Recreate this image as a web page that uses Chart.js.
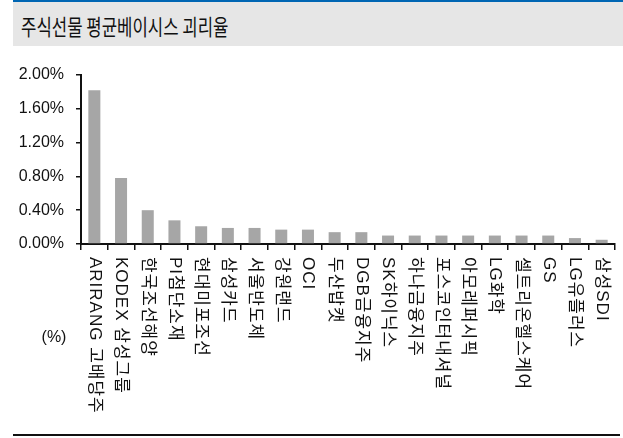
<!DOCTYPE html>
<html>
<head>
<meta charset="utf-8">
<script src="https://cdn.jsdelivr.net/npm/chart.js@4"></script>
<style>
    body { margin: 0; background: #fff; }
    #wrap { position: relative; width: 623px; height: 438px; }
    #topLine { position: absolute; left: 13px; top: 0; width: 610px; height: 2px; background: #0066b3; }
    #titleBox { position: absolute; left: 13px; top: 2px; width: 610px; height: 44px; background: #e6e6e6; }
    #title { position: absolute; left: 8px; top: 8px; font: 19px 'Noto Sans CJK KR', sans-serif; color: #111; white-space: nowrap; transform-origin: left top; transform: scale(0.88, 1.15); }
    #bottomLine { position: absolute; left: 13px; top: 434px; width: 607px; height: 2px; background: #111; }
    canvas { position: absolute; left: 0; top: 0; }
</style>
</head>
<body>
<div id="wrap">
    <div id="topLine"></div>
    <div id="titleBox"><div id="title">주식선물 평균베이시스 괴리율</div></div>
    <canvas id="basisChart" width="623" height="438"></canvas>
    <div id="bottomLine"></div>
</div>
<script>
// Data
const stocks = ['ARIRANG 고배당주', 'KODEX 삼성그룹', '한국조선해양', 'PI첨단소재', '현대미포조선',
    '삼성카드', '서울반도체', '강원랜드', 'OCI', '두산밥캣', 'DGB금융지주', 'SK하이닉스',
    '하나금융지주', '포스코인터내셔널', '아모레퍼시픽', 'LG화학', '셀트리온헬스케어', 'GS',
    'LG유플러스', '삼성SDI'];
const basisGap = [1.82, 0.78, 0.40, 0.28, 0.21, 0.19, 0.19, 0.17, 0.17, 0.14, 0.14, 0.10,
    0.10, 0.10, 0.10, 0.10, 0.10, 0.10, 0.07, 0.05];
const yTicks = [0, 0.4, 0.8, 1.2, 1.6, 2.0];

// Vertical category labels (read top to bottom) and the unit label
const labelPlugin = {
    id: 'verticalLabels',
    afterDraw(chart) {
        const ctx = chart.ctx;
        const xScale = chart.scales.x;
        ctx.save();
        ctx.fillStyle = '#111';
        ctx.font = "17px 'Liberation Sans', 'Noto Sans CJK KR', sans-serif";
        ctx.letterSpacing = '1px';
        ctx.textAlign = 'left';
        ctx.textBaseline = 'middle';
        stocks.forEach(function(name, i) {
            const x = xScale.getPixelForValue(i);
            ctx.save();
            ctx.translate(x, xScale.top + 13);
            ctx.rotate(Math.PI / 2);
            ctx.fillText(name, 0, 0);
            ctx.restore();
        });
        ctx.letterSpacing = '0px';
        ctx.font = "16px 'Liberation Sans', sans-serif";
        ctx.textAlign = 'center';
        ctx.fillText('(%)', 54, 338);
        ctx.restore();
    }
};

const ctx = document.getElementById('basisChart').getContext('2d');
const basisChart = new Chart(ctx, {
    type: 'bar',
    data: {
        labels: stocks,
        datasets: [{
            data: basisGap,
            backgroundColor: '#a6a6a6',
            barPercentage: 0.45,
            categoryPercentage: 1
        }]
    },
    options: {
        responsive: false,
        animation: false,
        devicePixelRatio: 1,
        layout: { padding: { top: 75, right: 8, left: 0, bottom: 0 } },
        plugins: {
            legend: { display: false },
            tooltip: { enabled: false }
        },
        scales: {
            x: {
                offset: true,
                afterFit: function(scale) { scale.height = 194; },
                grid: { offset: true, drawOnChartArea: false, drawTicks: true, tickLength: 6, color: '#111', lineWidth: 1.5 },
                border: { color: '#111', width: 2 },
                ticks: { display: false }
            },
            y: {
                min: 0,
                max: 2,
                afterFit: function(scale) { scale.width = 81; },
                afterBuildTicks: function(scale) { scale.ticks = yTicks.map(v => ({ value: v })); },
                grid: { drawOnChartArea: false, drawTicks: true, tickLength: 5, color: '#111', lineWidth: 1.5 },
                border: { color: '#111', width: 2 },
                ticks: {
                    color: '#111',
                    padding: 12,
                    font: { family: "'Liberation Sans', sans-serif", size: 16 },
                    callback: v => v.toFixed(2) + '%'
                }
            }
        }
    },
    plugins: [labelPlugin]
});
</script>
</body>
</html>
